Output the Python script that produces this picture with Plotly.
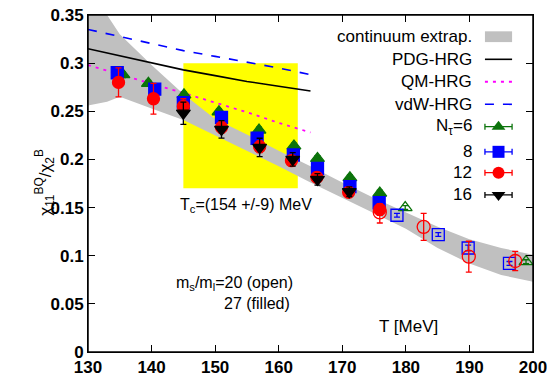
import plotly.graph_objects as go

# ---------------- data ----------------
band_T = [130, 133, 135, 140, 145, 150, 155, 160, 165, 170, 175, 180, 185, 190, 195, 200]
band_hi = [0.37, 0.35, 0.33, 0.298, 0.268, 0.242, 0.226, 0.209, 0.193, 0.176, 0.160, 0.145, 0.130, 0.117, 0.108, 0.101]
band_lo = [0.256, 0.260, 0.265, 0.253, 0.241, 0.225, 0.209, 0.193, 0.176, 0.160, 0.144, 0.128, 0.108, 0.092, 0.080, 0.073]

hrg_T = [130, 140, 145, 150, 155, 160, 165]
pdg_hrg = [0.315, 0.300, 0.293, 0.287, 0.281, 0.276, 0.271]
qm_hrg = [0.298, 0.279, 0.269, 0.259, 0.249, 0.238, 0.228]
vdw_hrg = [0.335, 0.320, 0.313, 0.307, 0.301, 0.295, 0.288]

# ms/ml = 27 (filled)
T6 = [135.5, 139.5, 145.1, 150.6, 156.9, 162.4, 166.1, 171.2, 175.9]
y6 = [0.288, 0.279, 0.267, 0.2495, 0.2305, 0.214, 0.201, 0.181, 0.165]
e6 = [0.003, 0.003, 0.003, 0.003, 0.003, 0.003, 0.003, 0.003, 0.003]

T8 = [134.6, 140.5, 145.0, 151.0, 156.6, 162.3, 166.1, 171.2, 175.8]
y8 = [0.290, 0.273, 0.259, 0.2437, 0.222, 0.2046, 0.1907, 0.1717, 0.155]
e8 = [0.004, 0.004, 0.004, 0.004, 0.004, 0.004, 0.004, 0.004, 0.004]

T12 = [134.8, 140.3, 145.0, 151.0, 157.0, 162.0, 166.0, 171.0, 175.9]
y12 = [0.280, 0.263, 0.255, 0.2333, 0.2132, 0.1987, 0.1814, 0.1658, 0.148]
e12 = [0.015, 0.016, 0.008, 0.006, 0.006, 0.005, 0.005, 0.005, 0.006]

T16 = [145.0, 151.0, 157.0, 162.2, 166.1, 171.1]
y16 = [0.248, 0.2312, 0.2125, 0.200, 0.1793, 0.1665]
e16 = [0.0115, 0.009, 0.0095, 0.007, 0.006, 0.005]

# ms/ml = 20 (open)
T6o = [179.9, 198.9]
y6o = [0.150, 0.0938]
e6o = [0.002, 0.002]

T8o = [178.6, 185.1, 189.8, 196.3]
y8o = [0.142, 0.122, 0.108, 0.092]
e8o = [0.002, 0.002, 0.003, 0.002]

T12o = [175.9, 182.8, 189.9, 197.2]
y12o = [0.145, 0.130, 0.099, 0.0945]
e12o = [0.011, 0.014, 0.016, 0.010]

tc_lo, tc_hi = 145, 163
box_lo, box_hi = 0.17, 0.30

x_range = [130, 200]
y_range = [0, 0.35]

legend_labels = ["continuum extrap.", "PDG-HRG", "QM-HRG", "vdW-HRG", "N<sub>τ</sub>=6", "8", "12", "16"]

# ---------------- style ----------------
FONT = "Liberation Sans, Arial, sans-serif"
GREEN = "#0b730b"
BLUE = "#0000ff"
RED = "#ff0000"
BLACK = "#000000"
GREY = "#c0c0c0"
MAGENTA = "#ff00ff"

fig = go.Figure()

# continuum band
fig.add_trace(go.Scatter(x=band_T + band_T[::-1], y=band_hi + band_lo[::-1],
                         fill="toself", fillcolor=GREY, line=dict(width=0),
                         mode="lines", hoverinfo="skip", showlegend=False))

# HRG lines
fig.add_trace(go.Scatter(x=hrg_T, y=pdg_hrg, mode="lines",
                         line=dict(color=BLACK, width=1.6), showlegend=False))
fig.add_trace(go.Scatter(x=hrg_T, y=qm_hrg, mode="lines",
                         line=dict(color=MAGENTA, width=1.8, dash="3px,5px"), showlegend=False))
fig.add_trace(go.Scatter(x=hrg_T, y=vdw_hrg, mode="lines",
                         line=dict(color=BLUE, width=1.6, dash="9px,9px"), showlegend=False))


def pts(x, y, e, color, symbol, size):
    fig.add_trace(go.Scatter(
        x=x, y=y, mode="markers",
        marker=dict(color=color, symbol=symbol, size=size,
                    line=dict(color=color, width=1.3)),
        error_y=dict(type="data", array=e, color=color, thickness=1.3, width=3),
        showlegend=False))


# open symbols (ms/ml=20)
pts(T6o, y6o, e6o, GREEN, "triangle-up-open", 12)
pts(T8o, y8o, e8o, BLUE, "square-open", 12)
pts(T12o, y12o, e12o, RED, "circle-open", 13)

# filled symbols (ms/ml=27)
pts(T6, y6, e6, GREEN, "triangle-up", 12)
pts(T8, y8, e8, BLUE, "square", 12)
pts(T12, y12, e12, RED, "circle", 12)
pts(T16, y16, e16, BLACK, "triangle-down", 12)

shapes = [dict(type="rect", xref="x", yref="y", x0=tc_lo, x1=tc_hi, y0=box_lo, y1=box_hi,
               fillcolor="#ffff00", line=dict(width=0), layer="below")]

# ---------------- manual legend (positions in plot-area fractions) ----------------
row_y = [0.9356, 0.8685, 0.802, 0.735, 0.6686, 0.594, 0.532, 0.466]
text_x = 0.867
s0, s1 = 0.892, 0.953
sc = (s0 + s1) / 2


def fx(p):
    return x_range[0] + p * (x_range[1] - x_range[0])


def fy(p):
    return y_range[0] + p * (y_range[1] - y_range[0])


annotations = []
for lab, ry in zip(legend_labels, row_y):
    annotations.append(dict(text=lab, x=text_x, y=ry, xref="paper", yref="paper",
                            xanchor="right", yanchor="middle", showarrow=False,
                            font=dict(family=FONT, size=17, color="black")))

shapes.append(dict(type="rect", xref="paper", yref="paper", x0=s0, x1=s1,
                   y0=row_y[0] - 0.016, y1=row_y[0] + 0.016, fillcolor=GREY, line=dict(width=0)))
shapes.append(dict(type="line", xref="paper", yref="paper", x0=s0, x1=s1, y0=row_y[1], y1=row_y[1],
                   line=dict(color=BLACK, width=1.6)))
shapes.append(dict(type="line", xref="paper", yref="paper", x0=s0, x1=s1, y0=row_y[2], y1=row_y[2],
                   line=dict(color=MAGENTA, width=1.8, dash="3px,5px")))
shapes.append(dict(type="line", xref="paper", yref="paper", x0=s0, x1=s1, y0=row_y[3], y1=row_y[3],
                   line=dict(color=BLUE, width=1.6, dash="9px,9px")))

for ry, col, sym in zip(row_y[4:], [GREEN, BLUE, RED, BLACK],
                        ["triangle-up", "square", "circle", "triangle-down"]):
    fig.add_trace(go.Scatter(x=[fx(sc)], y=[fy(ry)], mode="markers",
                             marker=dict(color=col, symbol=sym, size=12),
                             error_x=dict(type="constant", value=(s1 - s0) / 2 * (x_range[1] - x_range[0]),
                                          color=col, thickness=1.3, width=3),
                             showlegend=False, hoverinfo="skip"))

# ---------------- text labels ----------------
annotations += [
    dict(text="T<sub>c</sub>=(154 +/-9) MeV", x=0.355, y=0.436, xref="paper", yref="paper",
         showarrow=False, font=dict(family=FONT, size=16, color="black")),
    dict(text="m<sub>s</sub>/m<sub>l</sub>=20 (open)", x=0.465, y=0.169, xref="paper", yref="paper",
         xanchor="right", showarrow=False, font=dict(family=FONT, size=16, color="black")),
    dict(text="27 (filled)", x=0.458, y=0.113, xref="paper", yref="paper",
         xanchor="right", showarrow=False, font=dict(family=FONT, size=16, color="black")),
    dict(text="T [MeV]", x=0.791, y=0.0415, xref="paper", yref="paper",
         showarrow=False, font=dict(family=FONT, size=17, color="black")),
    dict(text="χ<sub>11</sub><sup>BQ</sup>/χ<sub>2</sub><sup>B</sup>", x=-0.130, y=0.504,
         xref="paper", yref="paper", textangle=-90, showarrow=False,
         font=dict(family=FONT, size=17, color="black")),
]

# frame of the plot area
shapes.append(dict(type="rect", xref="paper", yref="paper", x0=0, x1=1, y0=0, y1=1,
                   line=dict(color="black", width=1.5), layer="above"))

axis_common = dict(showgrid=False, zeroline=False, showline=True, linecolor="black", linewidth=1,
                   mirror="ticks", ticks="inside", ticklen=7, tickwidth=1, tickcolor="black",
                   tickfont=dict(family=FONT, size=17, color="black"),
                   tickprefix="<b>", ticksuffix="</b>", ticklabeloverflow="allow",
                   automargin=False)

minor_common = dict(showgrid=False, zeroline=False, showline=False, showticklabels=False,
                    mirror="ticks", ticks="inside", ticklen=4, tickwidth=1, tickcolor="black",
                    automargin=False)

# the page body adds an 8 px offset; size and margins compensate for it
fig.update_layout(
    width=547, height=371,
    margin=dict(l=80, r=22, t=7, b=27, autoexpand=False),
    paper_bgcolor="white", plot_bgcolor="white",
    showlegend=False,
    shapes=shapes, annotations=annotations,
    xaxis=dict(range=x_range, dtick=10, tick0=130, **axis_common),
    yaxis=dict(range=y_range, dtick=0.05, tick0=0, **axis_common),
    xaxis2=dict(range=x_range, dtick=2, tick0=130, overlaying="x", **minor_common),
    yaxis2=dict(range=y_range, dtick=0.01, tick0=0, overlaying="y", **minor_common),
)

fig.write_html("out.html")
